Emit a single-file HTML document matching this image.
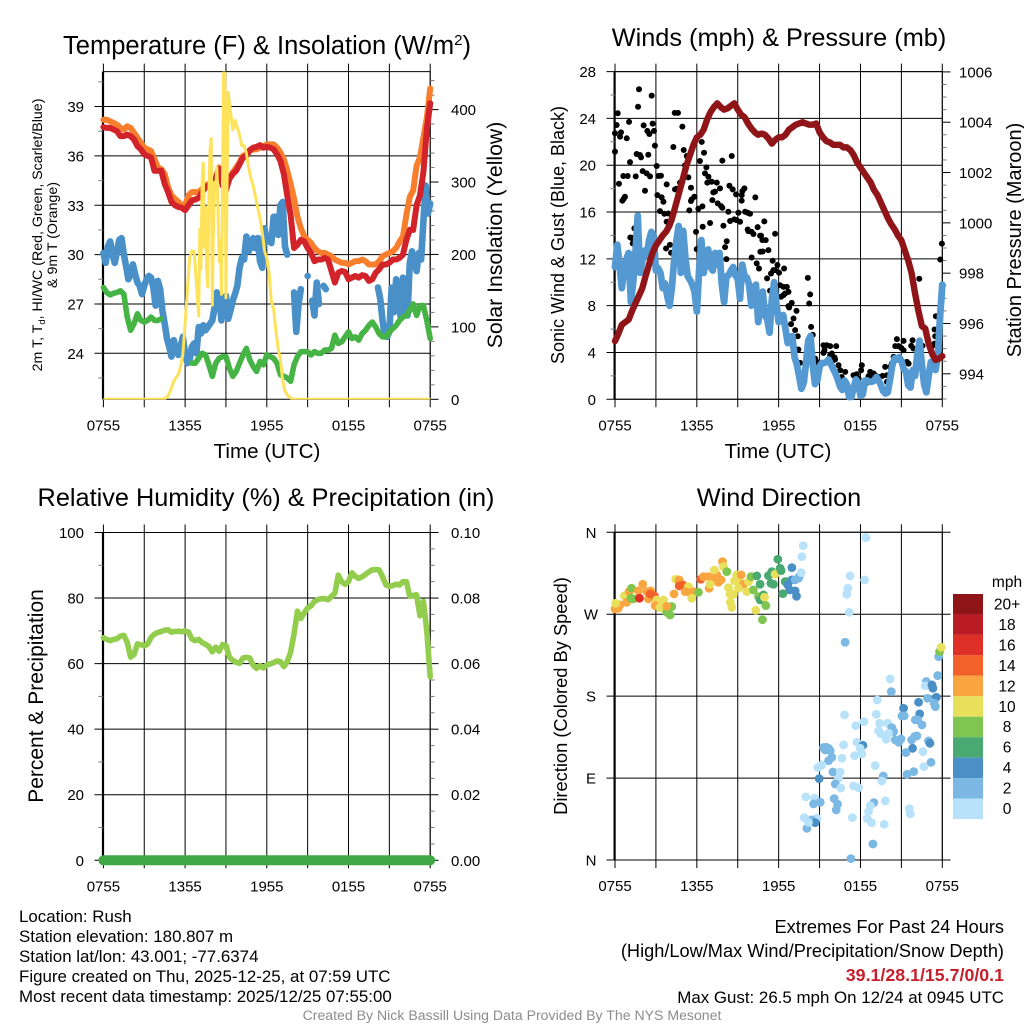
<!DOCTYPE html>
<html lang="en">
<head>
<meta charset="utf-8">
<title>NYS Mesonet Meteogram - Rush</title>
<style>
html,body{margin:0;padding:0;background:#fff;}
svg{display:block;font-family:"Liberation Sans",Arial,sans-serif;}
text{fill:#000;}
</style>
</head>
<body>
<svg id="chart" xmlns="http://www.w3.org/2000/svg" width="1024" height="1024" viewBox="0 0 1024 1024">
<defs>
<clipPath id="clip-temp"><rect x="103.4" y="71.6" width="327" height="328"/></clipPath>
</defs>
<rect x="0" y="0" width="1024" height="1024" fill="#fff"/>
<g id="grids"></g>
<g id="marks"></g>
<g id="labels"></g>

<text x="267" y="54" font-size="25.5" text-anchor="middle">Temperature (F) &amp; Insolation (W/m<tspan dy="-9" font-size="15">2</tspan><tspan dy="9">)</tspan></text>
<text x="779" y="46" font-size="25.3" text-anchor="middle">Winds (mph) &amp; Pressure (mb)</text>
<text x="266" y="506" font-size="25.3" text-anchor="middle">Relative Humidity (%) &amp; Precipitation (in)</text>
<text x="779" y="506" font-size="25.3" text-anchor="middle">Wind Direction</text>

<text x="267" y="458" font-size="20.6" text-anchor="middle">Time (UTC)</text>
<text x="778" y="458" font-size="20.6" text-anchor="middle">Time (UTC)</text>

<text transform="translate(42,235) rotate(-90)" font-size="14.2" text-anchor="middle">2m T, T<tspan font-size="9.5" dy="3">d</tspan><tspan dy="-3">, HI/WC (Red, Green, Scarlet/Blue)</tspan></text>
<text transform="translate(57,235) rotate(-90)" font-size="14.2" text-anchor="middle">&amp; 9m T (Orange)</text>
<text transform="translate(502,235) rotate(-90)" font-size="21.2" text-anchor="middle">Solar Insolation (Yellow)</text>
<text transform="translate(564,235) rotate(-90)" font-size="18" text-anchor="middle">Sonic Wind &amp; Gust (Blue, Black)</text>
<text transform="translate(1021,240) rotate(-90)" font-size="20" text-anchor="middle">Station Pressure (Maroon)</text>
<text transform="translate(43,696) rotate(-90)" font-size="21" text-anchor="middle">Percent &amp; Precipitation</text>
<text transform="translate(567,696) rotate(-90)" font-size="18.3" text-anchor="middle">Direction (Colored By Speed)</text>

<text x="19" y="922" font-size="16.9">Location: Rush</text>
<text x="19" y="942" font-size="16.9">Station elevation: 180.807 m</text>
<text x="19" y="962" font-size="16.9">Station lat/lon: 43.001; -77.6374</text>
<text x="19" y="982" font-size="16.9">Figure created on Thu, 2025-12-25, at 07:59 UTC</text>
<text x="19" y="1002" font-size="16.9">Most recent data timestamp: 2025/12/25 07:55:00</text>

<text x="1004" y="933" font-size="18.2" text-anchor="end">Extremes For Past 24 Hours</text>
<text x="1004" y="957" font-size="18.2" text-anchor="end">(High/Low/Max Wind/Precipitation/Snow Depth)</text>
<text x="1004" y="981" font-size="17.8" font-weight="bold" text-anchor="end" style="fill:#c5202b">39.1/28.1/15.7/0/0.1</text>
<text x="1004" y="1003" font-size="16.9" text-anchor="end">Max Gust: 26.5 mph On 12/24 at 0945 UTC</text>
<text x="512" y="1020" font-size="14.1" text-anchor="middle" style="fill:#8c8c8c">Created By Nick Bassill Using Data Provided By The NYS Mesonet</text>

<text x="1007" y="587" font-size="15.5" text-anchor="middle">mph</text>
</svg>

<script>
// ---- Temperature panel data (deg F, 15-minute steps unless noted) ----
const redTemp = [37.75,37.7,37.7,37.6,37.5,37.2,37.2,37.3,37.2,37,36.6,36.4,36.1,36,35.9,35.1,35.1,35.1,34.3,33.8,33.2,33,32.9,32.85,32.7,33,33.3,33.35,33.45,33.8,34.1,34.2,34.35,34.6,35.2,34.2,33.9,34.6,34.9,35.1,35.5,35.9,36,36.35,36.5,36.55,36.65,36.5,36.55,36.5,36.4,36.1,35.7,34.9,33.6,32.4,30.4,30.6,30.9,30.8,30.4,30.1,29.6,29.7,29.7,29.8,29.7,29,28.3,28.9,29,28.95,28.5,28.6,28.7,28.6,28.75,28.7,28.4,28.5,28.9,29.1,29.4,29.4,29.5,29.7,29.7,29.8,30,30.9,31.5,31.5,33,33.6,35,37.6,39.2];
const orangeTemp = [38.2,38.2,38.1,38,37.9,37.7,37.6,37.8,37.7,37.4,37.1,36.8,36.5,36.4,36.3,35.8,35.3,35.2,34.9,34.1,33.6,33.4,33.2,33,33,33.6,33.8,33.8,33.8,34,34.2,34.3,34.4,34.7,35.3,34.4,34.1,34.7,35,35.3,35.6,36,36.1,36.3,36.4,36.4,36.5,36.6,36.7,36.7,36.7,36.5,36.2,35.8,35.1,34.3,33.4,32.3,31.6,31.1,30.9,30.7,30.4,30.2,30.1,30.1,30,29.9,29.7,29.6,29.5,29.5,29.4,29.5,29.6,29.6,29.7,29.6,29.4,29.4,29.4,29.6,29.9,30,30.1,30.2,30.4,30.8,31.1,32.4,33.5,33.9,35.4,35.9,37.1,38.3,40.1];
const greenDewpoint = [28,27.7,27.55,27.65,27.7,27.8,27.6,26.2,25.4,25.8,26.4,26,25.9,26,26.2,26,26,26.1,null,null,null,null,null,null,null,null,23.4,23.4,23.7,24,23.9,23.3,22.6,23.4,23.7,23.8,23.8,23.1,22.6,22.9,23.4,23.9,24.3,23.6,23.2,22.9,23.5,23.3,23.9,23.8,23.7,23.4,22.7,22.6,22.5,22.3,23.3,23.8,24.1,24.1,24.1,23.9,24.1,24,24,24.2,24.2,24.3,25.1,24.6,24.7,25,25.3,24.9,25,24.8,25.2,25.4,25.7,25.9,25.6,25.2,25,25,25.3,25.5,25.7,26,26.2,26.3,26.6,27,26.3,26.9,26.9,26,24.9];
// 10-minute steps
const blueWindChill = [30.1,29.5,30.5,30.8,30,29.5,30.2,30.9,31,30,29.3,28.5,28.8,29.4,28.8,28.3,28.1,27.6,28.1,28.5,28.7,28.6,28,26.9,28.4,27.9,26.6,25.8,24.9,24.4,23.8,24.8,24.2,23.9,24.4,25,24,23.4,23.6,24.4,24.6,24,25.6,25.2,25.7,25.4,25.6,25.8,26,26.8,27.7,27.5,26,27,27.5,26.1,26.6,27.2,27.6,28.1,29.2,29.8,29.7,31.1,30.2,30.5,31,30.4,31,29.6,29.2,31.6,30.8,31,30.7,32.3,32.3,31.2,33,33.2,30.5,30,null,null,27.7,25.3,27,27.9,null,null,28.7,null,27.2,26.3,28.3,27,null,28.1,27.9,null,null,null,null,null,null,null,null,null,null,null,null,null,null,null,null,null,null,null,null,null,null,28,27.3,26,25.1,25,25.3,28,26.5,28.5,27.3,26.2,28.6,28.4,26.3,29.5,30.2,29.5,29,30.1,29.7,32,34.2,32.5,33.1];
const solarHours = [0,4.33,4.5,4.667,4.833,5,5.167,5.333,5.5,5.667,5.833,6,6.167,6.333,6.5,6.667,6.833,7,7.083,7.167,7.25,7.333,7.417,7.5,7.583,7.667,7.75,7.833,7.917,8,8.083,8.167,8.25,8.333,8.417,8.5,8.583,8.667,8.75,8.833,8.917,9,9.083,9.167,9.25,9.5,9.667,9.833,10,10.167,10.333,10.5,10.667,10.833,11,11.167,11.333,11.5,11.667,11.833,12,12.167,12.333,12.5,12.667,12.833,13,13.167,13.333,13.5,13.667,13.833,14,24];
const solarValues = [0,0,1,3,8,16,25,30,34,45,62,105,150,195,205,204,160,115,235,180,300,326,210,265,180,155,290,345,360,130,240,300,290,320,260,190,220,145,300,460,460,140,300,424,410,372,385,375,365,350,350,340,320,305,295,280,265,250,230,205,195,175,135,125,95,70,55,25,12,6,3,1,0,0];

// ---- Wind panel data ----
const windSpeed = [11.3,13.2,11.5,9.5,11,12,12.5,8.3,10,12.5,15.7,10.8,11.8,12.7,12.3,13.6,14.3,14,11,11.2,10.8,9.5,9.9,8.8,8,9.5,11.8,13.5,14.8,10.8,14.4,12,10.5,10.2,9.8,9.2,7.5,11,13.6,10.8,12,12.8,11.3,11,12.5,11.5,12.5,9.8,8.3,10.5,10.6,11,11.3,10.6,10.3,8.6,11.5,10.5,10.4,9.8,8,9.3,9.8,6.6,7.8,9.2,7.2,6.8,5.7,8.5,10,8.2,6.6,6.8,7.2,6,4.8,5,5.4,3.6,3,2,0.9,1.4,3,5,5.4,3,1.3,1.6,2.8,3.1,3.1,3.2,3.4,3,2.6,2.2,1.7,1.1,0.8,1.6,1.3,0.2,0.2,1,1.7,1.4,0.3,0.4,1.6,1.6,1.5,1.5,1.6,1.9,1.6,1.2,0.7,0.5,0.6,1.7,2.9,3.5,3.4,3.6,3.3,2.6,2.4,1.2,1,2.5,2,3.8,5,3,1.3,0.6,2,3.2,2.6,2.5,3.6,7,9.8];
const pressureMb = [995.3,995.6,995.95,996.05,996.15,996.5,996.8,997.1,997.4,997.9,998.35,998.8,999.1,999.3,999.5,999.65,999.9,1000.3,1000.8,1001.3,1001.8,1002.3,1002.7,1003.1,1003.4,1003.5,1003.7,1004.1,1004.4,1004.6,1004.75,1004.6,1004.5,1004.55,1004.65,1004.75,1004.5,1004.3,1004.2,1003.95,1003.75,1003.6,1003.5,1003.55,1003.5,1003.35,1003.15,1003.3,1003.4,1003.4,1003.5,1003.7,1003.8,1003.9,1003.95,1004,1003.95,1003.9,1003.9,1003.95,1003.6,1003.4,1003.25,1003.2,1003.1,1003.1,1003.1,1003,1003,1002.9,1002.7,1002.4,1002.2,1002,1001.8,1001.6,1001.3,1001.1,1000.8,1000.5,1000.2,999.95,999.75,999.5,999.3,998.9,998.5,998,997.2,996.5,995.9,995.8,995.2,994.8,994.55,994.6,994.7];
const gustHours = [0,0.2,0.12,0,0.37,0.44,0.86,1.03,1.76,1.69,2.69,2.1,2.76,2.37,2.52,2.86,2.93,1.59,1.83,1.91,2.44,1.1,0.61,0.93,1.52,2.03,2.32,2.57,3.18,3.37,3.06,0.29,0.73,0.54,0.64,2.2,3.11,3.42,3.55,3.3,3.62,3.91,3.79,1.42,1.22,1.12,4.38,4.62,4.94,4.28,5.04,5.26,5.13,5.13,5.38,4.77,4.52,4.4,5.57,5.62,5.82,5.57,5.45,6.11,6.41,6.36,6.53,6.23,6.7,6.6,6.85,6.77,7.09,7.46,7.7,7.21,7.33,7.14,7.53,7.78,7.87,8.31,7.87,8.56,8.39,8.63,8.88,9.29,9.34,9.49,9.29,10.29,9.05,9.54,9.73,9.9,8.75,8.44,8.92,9.17,10.95,10.46,7.95,6.97,6.43,5.94,3.79,4.16,9.73,10.02,10.15,10.71,11.74,8.19,
1.34,1.3,3.74,4.03,4.11,5.99,8.07,8.17,9.78,10.64,10.81,11.05,10.66,10.83,11.25,10.02,10.39,10.56,11.56,11.91,11.61,11.44,11.74,12.03,11.15,12.1,12.35,11.37,12.18,12.35,
12.4,12.6,12.47,12.72,14.14,14.31,14.24,12.96,12.77,12.72,13.31,13.09,12.91,14.38,13.21,14.5,13.4,13.45,13.57,13.89,14.06,14.68,14.8,14.92,14.8,14.92,15.29,15.53,15.36,15.29,15.78,16.22,15.9,16.1,15.78,15.95,16.14,16.39,16.51,16.88,16.63,16.76,16.44,17.49,17.73,17.61,17.86,18.1,18.05,17.24,18.47,18.71,18.96,18.59,18.83,19.08,19.32,19.62,19.81,19.94,19.94,20.3,20.18,20.43,20.55,20.67,21.16,20.79,20.99,21.16,21.4,21.53,21.82,21.72,21.89,22.31,22.55,23.43,23.48,23.53,23.43,23.19,23.85,23.97,23.36];
const gustValues = [21.16,24.44,23.44,22.73,22.44,22.81,22.3,23.7,26.49,25,25.95,23.41,23.55,22.93,22.67,22.93,21.67,20.96,20.87,20.67,20.9,20.27,19.08,19.08,19.05,19.5,19.3,19.05,19.08,19.1,19.93,18.42,17.31,16.97,17.14,17.82,17.45,17.25,16.88,16.08,15.85,15.88,18.36,14.6,13.8,13.83,24.47,24.47,23.3,21.56,21.3,20.79,19.99,19.59,18.96,18.51,17.99,17.94,18.08,17.08,17.31,16.94,16.14,16.28,16.48,21.99,21.07,20.36,19.82,19.3,19.02,18.51,18.59,18.51,18.02,17.68,17.74,17.02,16.74,16.51,16.37,16.03,20.39,20.79,18.25,17.94,17.51,17.45,17.79,18.02,16.97,17.25,15.94,16.03,15.94,15.85,15.37,15.23,15.31,15.17,15.2,14.71,14.83,15.06,14.74,14.31,15.17,15.31,14.51,14.31,14.12,13.97,14.14,13.5,
13.66,13.32,12.89,13.2,12.52,12.83,13,11.98,14.37,13.97,13.6,13.6,12.61,12.63,12.75,12.12,11.61,11.18,11.84,11.47,11.04,10.75,11.04,10.81,10.33,9.75,9.61,9.27,8.76,8.9,
11.18,9.61,9.04,9.18,10.38,8.96,8.19,8.24,7.84,7.96,7.56,6.9,6.42,6.19,5.91,5.5,5.39,4.25,3.11,1.63,3.54,3.48,3.2,2.91,2.43,2.48,4.62,4.62,4.19,3.97,4.54,4.54,3.91,3.57,3.77,3.28,3.4,2.91,2.48,2.34,1.91,1.63,1.49,2.06,2.14,1.91,1.77,2.91,2.48,0.77,1.4,2.34,2.2,1.97,1.91,2.06,1.91,2,2.77,1.49,2.06,3.05,2.77,3.62,4.54,5.14,4.99,4.54,4.39,4.19,3.2,3.05,5.05,4.57,4.34,10.3,4.57,5.96,5.39,7.1,4.76,4.48,11.95,13.3,4.62];

// ---- Humidity panel data ----
const relHumidity = [67.9,67.4,67,67.4,67.6,68.4,68.6,66.5,62,62.8,66,65.8,65.4,66,68,69,69.5,69.8,70.2,70.3,69.6,69.8,69.9,69.7,70,69.6,67.5,67,67.4,66.4,65.9,65.2,63.6,65,63.8,65.8,65.5,62,61,60.4,60.1,61.7,61.9,61.7,59.5,58.5,59.4,58.7,59.6,59.9,60.3,60.8,60.6,59.1,60.5,63.5,69,76,73.8,75.5,77,77.6,79,79.5,79.8,79.8,79.5,80.5,81.5,87,85,84.2,85,87.7,86.6,86,86.5,87.2,88,88.6,88.7,88.6,86.5,84,83.6,83.8,84.2,84,85,85,80.5,80.8,81,74.6,79,70,56];
const precipInches = [0,0,0,0,0,0,0,0,0,0,0,0,0,0,0,0,0,0,0,0,0,0,0,0,0];

// ---- Wind direction panel data ----
const dirHours = [0,0.12,0.37,0.24,0.05,0.69,0.86,1.03,1.22,1.17,1.35,1.71,1.79,2.03,2.32,2.52,2.62,2.45,2.57,2.89,3.06,3.55,2.94,3.3,3.79,4.04,4.16,3.79,4.33,4.45,4.7,4.7,4.97,5.38,5.14,5.5,5.75,6.12,5.63,6.29,6.48,6.85,7.09,7.46,7.58,7.78,7.88,7.95,8.2,7.29,6.9,6.97,8.32,8.44,8.69,8.46,8.56,8.93,9.05,8.76,9.25,9.42,9.79,9.66,9.05,9.98,10.15,10.4,10.64,10.52,10.64,10.89,10.96,11.06,10.32,10.81,11.25,11.5,11.43,11.62,11.74,11.94,12.11,12.18,12.97,12.6,12.48,12.67,13.21,12.8,13.31,12.31,12.97,13.21,13.46,13.5,13.65,13.7,13.8,
18.4,17.24,18.3,17.07,17,17.17,16.88,23.73,23.8,23.92,
20.18,20.26,23.66,22.83,22.75,23.24,23.31,23.56,22.92,22.26,23.41,23.49,21.16,21.04,21.21,22.34,22.02,22.19,22.51,19.23,19.16,19.4,19.99,16.83,17.66,18.25,20.3,20.43,19.33,19.5,20.06,19.89,20.55,20.8,20.97,21.75,22.14,21.97,22.99,23.09,21.82,21.33,22.58,23.17,22.65,21.9,21.41,19.67,19.57,19.08,15.29,15.49,15.66,15.78,15.41,15.9,15.66,16.76,17.74,18.18,17.98,18.1,17.57,16.64,15.17,14.87,15.98,16.51,16.39,14.97,16.15,16.56,17.49,17.86,13.99,14.63,15.05,14.56,16.07,16.32,16.22,18.98,19.82,18.72,18.59,17.4,18.5,18.81,19.74,21.58,21.65,13.87,14.8,14.43,14.68,14.07,18.91,17.3,14.19];
const dirDegrees = [275.8,280.2,280.2,276.5,282,290.1,283.1,294.8,298.5,287.5,286.8,295.6,287.5,302.9,294.8,294.8,295.6,286.8,292.3,290.1,285.7,285.7,279.5,277.3,272.1,269.2,278.4,278.7,292.3,308.4,307.7,301.1,302.2,300.3,294.8,293.7,294.8,294.1,287.5,308.4,311.3,311.3,309.5,313.2,305.1,307.7,327.8,322.3,316.8,318.6,298.5,302.9,299.2,291.9,291.9,283.1,277.6,313.2,307.7,306.6,313.2,302.9,305.8,294.8,298.5,311.3,296.7,312.1,302.9,289.3,285.7,291.2,288.6,279.5,274.3,264,312.4,316.8,304,302.9,313.9,330.4,320.5,317.9,321.2,305.8,305.8,302.2,295.6,296.7,289.7,292.6,307.7,307.7,309.5,311.3,315.7,333.3,345.4,
354.2,312.1,307.7,298.5,291.9,272.1,239.2,223.4,228.9,233.7,
198.9,185,202.6,196,191.6,192.3,188.7,178.8,177.7,173.3,172.2,168.5,166.7,158.3,158.3,160.5,153.9,153.9,148.4,175.8,160.1,150.2,150.2,159.4,147.6,152,145.4,141,141.8,138.5,139.2,132.6,131.9,129.3,133,131.9,136.3,135.6,130.8,128.2,122.7,118,119.1,107.3,102.6,97.1,94.2,92.3,86.8,103.7,123.5,123.8,122.7,120.2,120.9,112.8,109.2,126.4,129.3,126,122.7,116.5,114.7,111.7,104.4,101.5,96.7,96.7,89.8,89.4,83.5,79.1,81.3,79.5,69.3,67.8,63.4,61.6,67.4,61.2,55,63,64.9,59.7,53.1,46.5,45.4,41,39.2,56.4,50.6,46.5,45.8,44,41,34.8,17.6,1.5,41.4];
const dirSpeeds = [13,13,13,13,11,11,13,13,9,9,9,13,17,13,13,13,13,13,15,15,11,11,13,11,9,9,9,13,13,11,13,15,15,11,13,13,13,9,11,15,13,13,13,13,13,13,13,11,9,11,13,11,11,11,11,11,11,11,11,11,13,13,11,11,11,9,9,7,7,9,7,7,11,9,11,9,7,7,7,7,11,7,7,7,5,7,7,5,5,5,5,7,5,3,3,3,1,1,1,
1,1,1,1,1,1,3,3,9,11,
1,3,3,3,1,5,5,5,3,5,3,3,5,3,3,5,3,3,3,1,1,1,1,1,1,1,3,3,1,1,1,1,3,3,3,3,3,3,3,5,5,3,1,3,1,3,3,3,1,1,3,3,3,3,3,3,3,1,1,5,1,1,1,1,1,1,3,1,1,5,3,1,1,1,1,1,3,3,3,3,3,3,1,1,1,1,1,1,1,1,1,1,1,3,5,3,3,3,1,7];

// ---- Axis tick labels and legend ----
const timeLabels = ['0755','1355','1955','0155','0755'];
const tempTicks = [24,27,30,33,36,39];
const solarTicks = [0,100,200,300,400];
const windTicks = [0,4,8,12,16,20,24,28];
const pressureTicks = [994,996,998,1000,1002,1004,1006];
const rhTicks = [0,20,40,60,80,100];
const precipTicks = ['0.00','0.02','0.04','0.06','0.08','0.10'];
const dirLabels = ['N','E','S','W','N'];
const legendLabels = ['20+','18','16','14','12','10','8','6','4','2','0'];
const legendColors = ['#8f1518','#b91c24','#de3027','#f4622b','#f9a640','#e8e05a','#7ec64f','#4aa871','#4a8fc6','#7cb8e4','#b7e2f9'];

const NS = 'http://www.w3.org/2000/svg';
const grids = document.getElementById('grids');
const marks = document.getElementById('marks');
const labels = document.getElementById('labels');

function make(tag, attrs, parent, txt) {
  const el = document.createElementNS(NS, tag);
  for (const k in attrs) el.setAttribute(k, attrs[k]);
  if (txt !== undefined) el.textContent = txt;
  parent.appendChild(el);
  return el;
}
function linear(d0, d1, r0, r1) {
  return v => r0 + (v - d0) * (r1 - r0) / (d1 - d0);
}
function tickLine(x1, y1, x2, y2, w, col, name) {
  const el = make('line', {x1, y1, x2, y2, stroke: col, 'stroke-width': w}, grids);
  
  
  return el;
}
function tickText(x, y, anchor, str, name) {
  const el = make('text', {x, y, 'text-anchor': anchor, 'font-size': 15}, labels, str);
  
  
  return el;
}
function linePath(values, xAt, yAt) {
  let d = '', pen = false;
  values.forEach((v, i) => {
    if (v === null) { pen = false; return; }
    const p = xAt(i).toFixed(2) + ' ' + yAt(v).toFixed(2);
    const nextMissing = i === values.length - 1 || values[i + 1] === null;
    if (!pen) { d += 'M' + p + (nextMissing ? 'L' + p : ''); pen = true; }
    else d += 'L' + p;
  });
  return d;
}
function drawSeries(values, xAt, yAt, col, w, name, clip) {
  const el = make('path', {d: linePath(values, xAt, yAt), fill: 'none', stroke: col, 'stroke-width': w, 'stroke-linecap': 'round', 'stroke-linejoin': 'round'}, marks);
  
  
  if (clip) el.setAttribute('clip-path', 'url(#' + clip + ')');
  return el;
}
// Builds a panel frame with 3-hour verticals; returns the hour-to-pixel scale.
function panelFrame(left, right, top, bottom, prefix) {
  const xH = linear(0, 24, left, right);
  for (let h = 0; h <= 24; h += 3) {
    tickLine(xH(h), top - 8, xH(h), bottom + 8, 1, '#000', prefix + '-vertical-grid-' + h);
  }
  timeLabels.forEach((s, i) => {
    tickText(xH(i * 6), bottom + 31, 'middle', s, prefix + '-x-tick-label-' + i);
  });
  tickLine(left - 0.4, top, left - 0.4, bottom, 2.2, '#000', prefix + '-left-axis');
  tickLine(right, top, right, bottom, 1, '#000', prefix + '-right-axis');
  tickLine(left, top, right, top, 1, '#000', prefix + '-top-axis');
  tickLine(left, bottom, right, bottom, 1, '#000', prefix + '-bottom-axis');
  return xH;
}
function seriesX(xH, n) {
  return i => xH(i * 24 / (n - 1));
}

// ---------- Temperature panel ----------
const xT = panelFrame(103.4, 430.2, 71.6, 399.3, 'temperature');
const yTemp = linear(24, 39, 353.3, 106.55);
const ySolar = linear(0, 400, 399.3, 109.6);
tempTicks.forEach(v => {
  tickLine(94.5, yTemp(v), 430.2, yTemp(v), 1, '#000', 'temperature-grid-' + v);
  tickText(84, yTemp(v) + 5.5, 'end', String(v), 'temperature-tick-label-' + v);
});
for (let v = 22.5; v <= 40.5; v += 3) {
  tickLine(98.5, yTemp(v), 103, yTemp(v), 1, '#777', 'temperature-minor-tick-' + v);
}
solarTicks.forEach(v => {
  tickLine(430.2, ySolar(v), 438.5, ySolar(v), 1, '#000', 'solar-tick-' + v);
  tickText(451, ySolar(v) + 5.5, 'start', String(v), 'solar-tick-label-' + v);
});
for (let v = 0; v <= 440; v += 20) {
  if (v % 100 !== 0) tickLine(430.2, ySolar(v), 434.5, ySolar(v), 1, '#777', 'solar-minor-tick-' + v);
}
drawSeries(blueWindChill, seriesX(xT, blueWindChill.length), yTemp, '#4a90c8', 6.6, 'wind-chill-line');
drawSeries(greenDewpoint, seriesX(xT, greenDewpoint.length), yTemp, '#45b445', 5.6, 'dewpoint-line');
drawSeries(orangeTemp, seriesX(xT, orangeTemp.length), yTemp, '#f77e2c', 6, 'temperature-9m-line');
drawSeries(redTemp, seriesX(xT, redTemp.length), yTemp, '#d2232a', 6, 'temperature-2m-line');
drawSeries(solarValues, i => xT(solarHours[i]), ySolar, '#fde25a', 3, 'solar-insolation-line', 'clip-temp');

// ---------- Wind panel ----------
const xW = panelFrame(615, 942.3, 71.6, 399.3, 'winds');
const yWind = linear(0, 28, 399.3, 71.6);
const yPres = linear(994, 1006, 373.8, 71.9);
windTicks.forEach(v => {
  tickLine(606.5, yWind(v), 942.3, yWind(v), 1, '#000', 'wind-grid-' + v);
  tickText(596, yWind(v) + 5.5, 'end', String(v), 'wind-tick-label-' + v);
});
for (let v = 2; v <= 26; v += 4) {
  tickLine(610.5, yWind(v), 615, yWind(v), 1, '#777', 'wind-minor-tick-' + v);
}
pressureTicks.forEach(v => {
  tickLine(942.3, yPres(v), 950.5, yPres(v), 1, '#000', 'pressure-tick-' + v);
  tickText(959, yPres(v) + 5.5, 'start', String(v), 'pressure-tick-label-' + v);
});
for (let v = 993; v <= 1005.5; v += 0.5) {
  if (v % 2 !== 0) tickLine(942.3, yPres(v), 946.5, yPres(v), 1, '#777', 'pressure-minor-tick-' + v);
}
gustValues.forEach((v, i) => {
  const dot = make('circle', {cx: xW(gustHours[i]), cy: yWind(v), r: 3, fill: '#000'}, marks);
  
  
});
drawSeries(windSpeed, seriesX(xW, windSpeed.length), yWind, '#5499d2', 6.8, 'wind-speed-line');
drawSeries(pressureMb, seriesX(xW, pressureMb.length), yPres, '#8f1518', 6.4, 'pressure-line');

// ---------- Humidity panel ----------
const xR = panelFrame(103.4, 430.2, 532.5, 860.3, 'humidity');
const yRh = linear(0, 100, 860.3, 532.5);
const yPrecip = linear(0, 0.1, 860.3, 532.5);
rhTicks.forEach(v => {
  tickLine(94.5, yRh(v), 430.2, yRh(v), 1, '#000', 'humidity-grid-' + v);
  tickText(84, yRh(v) + 5.5, 'end', String(v), 'humidity-tick-label-' + v);
});
for (let v = 10; v <= 90; v += 20) {
  tickLine(98.5, yRh(v), 103, yRh(v), 1, '#777', 'humidity-minor-tick-' + v);
}
precipTicks.forEach(s => {
  const v = parseFloat(s);
  tickLine(430.2, yPrecip(v), 438.5, yPrecip(v), 1, '#000', 'precip-tick-' + s);
  tickText(451, yPrecip(v) + 5.5, 'start', s, 'precip-tick-label-' + s);
});
for (let k = 1; k < 20; k += 1) {
  if (k % 4 !== 0) tickLine(430.2, yPrecip(k * 0.005), 434.5, yPrecip(k * 0.005), 1, '#777', 'precip-minor-tick-' + k);
}
drawSeries(precipInches, seriesX(xR, precipInches.length), yPrecip, '#40a845', 10, 'precipitation-line');
drawSeries(relHumidity, seriesX(xR, relHumidity.length), yRh, '#93cd4d', 5.6, 'relative-humidity-line');

// ---------- Direction panel ----------
const xD = panelFrame(615, 942.3, 532.3, 860, 'direction');
const yDir = linear(0, 360, 860, 532.3);
dirLabels.forEach((s, i) => {
  tickLine(606.5, yDir(i * 90), 950.5, yDir(i * 90), 1, '#000', 'direction-grid-' + i);
  tickText(591, yDir(i * 90) + 5.5, 'middle', s, 'direction-tick-label-' + i);
});
function speedColor(s) {
  const bin = Math.min(10, Math.floor(s / 2));
  return legendColors[10 - bin];
}
dirDegrees.forEach((v, i) => {
  const dot = make('circle', {cx: xD(dirHours[i]), cy: yDir(v), r: 4.4, fill: speedColor(dirSpeeds[i])}, marks);
  
  
});

// ---------- Speed legend ----------
const legendEdge = linear(0, 11, 594, 819);
legendColors.forEach((c, i) => {
  const box = make('rect', {x: 953, y: legendEdge(i), width: 30, height: legendEdge(i + 1) - legendEdge(i), fill: c}, labels);
  
  
  const t = make('text', {x: 1007, y: legendEdge(i) + 15.5, 'text-anchor': 'middle', 'font-size': 15.5}, labels, legendLabels[i]);
  
  
});
</script>
</body>
</html>
